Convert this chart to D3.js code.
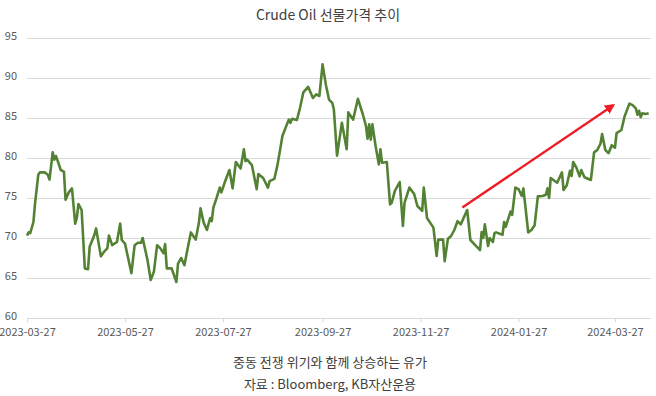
<!DOCTYPE html>
<html>
<head>
<meta charset="utf-8">
<script src="https://cdn.jsdelivr.net/npm/d3@7"></script>
<style>
  html, body { margin: 0; padding: 0; background: #fff; }
  #chart { width: 656px; height: 396px; }
  text { font-family: "Noto Sans CJK KR", "Noto Sans", sans-serif; }
</style>
</head>
<body>
<div id="chart"></div>
<script>
"use strict";

// Crude oil futures
const dates = [
  "2023-03-27","2023-03-28","2023-03-29","2023-03-31","2023-04-01","2023-04-03","2023-04-04","2023-04-07",
  "2023-04-09","2023-04-10","2023-04-12","2023-04-13","2023-04-14","2023-04-15","2023-04-17","2023-04-19",
  "2023-04-20","2023-04-22","2023-04-24","2023-04-26","2023-04-27","2023-04-28","2023-04-30","2023-05-02",
  "2023-05-04","2023-05-05","2023-05-08","2023-05-09","2023-05-12","2023-05-14","2023-05-16","2023-05-17",
  "2023-05-19","2023-05-22","2023-05-24","2023-05-25","2023-05-27","2023-05-31","2023-06-02","2023-06-04",
  "2023-06-06","2023-06-07","2023-06-10","2023-06-12","2023-06-14","2023-06-16","2023-06-18","2023-06-20",
  "2023-06-21","2023-06-22","2023-06-25","2023-06-28","2023-06-29","2023-07-01","2023-07-03","2023-07-05",
  "2023-07-07","2023-07-10","2023-07-12","2023-07-13","2023-07-15","2023-07-17","2023-07-19","2023-07-20",
  "2023-07-21","2023-07-23","2023-07-25","2023-07-26","2023-07-28","2023-07-31","2023-08-02","2023-08-04",
  "2023-08-07","2023-08-09","2023-08-10","2023-08-11","2023-08-14","2023-08-17","2023-08-18","2023-08-21",
  "2023-08-24","2023-08-25","2023-08-28","2023-08-30","2023-09-02","2023-09-04","2023-09-06","2023-09-07",
  "2023-09-08","2023-09-11","2023-09-13","2023-09-15","2023-09-18","2023-09-21","2023-09-23","2023-09-25",
  "2023-09-27","2023-09-29","2023-10-01","2023-10-03","2023-10-04","2023-10-06","2023-10-09","2023-10-12",
  "2023-10-13","2023-10-16","2023-10-19","2023-10-22","2023-10-24","2023-10-25","2023-10-26","2023-10-27",
  "2023-10-28","2023-10-30","2023-11-01","2023-11-02","2023-11-03","2023-11-06","2023-11-08","2023-11-09",
  "2023-11-11","2023-11-14","2023-11-16","2023-11-17","2023-11-20","2023-11-23","2023-11-25","2023-11-28",
  "2023-11-29","2023-12-01","2023-12-05","2023-12-07","2023-12-08","2023-12-11","2023-12-12","2023-12-14",
  "2023-12-16","2023-12-18","2023-12-20","2023-12-22","2023-12-26","2023-12-28","2023-12-31","2024-01-03",
  "2024-01-04","2024-01-05","2024-01-06","2024-01-08","2024-01-09","2024-01-11","2024-01-12","2024-01-13",
  "2024-01-17","2024-01-18","2024-01-19","2024-01-22","2024-01-23","2024-01-25","2024-01-27","2024-01-29",
  "2024-01-30","2024-02-02","2024-02-04","2024-02-06","2024-02-08","2024-02-11","2024-02-13","2024-02-14",
  "2024-02-15","2024-02-16","2024-02-20","2024-02-23","2024-02-24","2024-02-26","2024-02-28","2024-02-29",
  "2024-03-01","2024-03-03","2024-03-05","2024-03-06","2024-03-08","2024-03-12","2024-03-14","2024-03-16",
  "2024-03-18","2024-03-19","2024-03-21","2024-03-23","2024-03-25","2024-03-27","2024-03-28","2024-03-31",
  "2024-04-02","2024-04-05","2024-04-07","2024-04-09","2024-04-10","2024-04-11","2024-04-12","2024-04-13",
  "2024-04-15","2024-04-17"
];
const prices = [
  70.3, 70.7, 70.6, 72.0, 74.3, 77.9, 78.2, 78.2,
  77.9, 77.3, 80.7, 79.8, 80.25, 79.7, 78.5, 78.3,
  74.8, 75.7, 76.2, 71.8, 72.5, 74.25, 73.5, 66.2,
  66.1, 68.9, 70.4, 71.2, 67.7, 68.3, 68.7, 70.3,
  69.1, 69.5, 71.8, 69.75, 69.3, 65.6, 69.1, 69.4,
  69.4, 70.0, 67.25, 64.75, 65.8, 69.1, 68.7, 68.1,
  69.25, 66.2, 66.2, 64.5, 66.8, 67.5, 66.6, 68.7,
  70.7, 69.8, 71.9, 73.7, 71.9, 71.0, 72.5, 72.1,
  73.8, 75.0, 76.3, 75.7, 76.9, 78.5, 76.2, 79.5,
  78.7, 81.1, 79.6, 79.8, 79.1, 76.1, 78.0, 77.5,
  76.3, 77.1, 77.4, 79.2, 82.75, 83.8, 84.8, 84.4,
  84.9, 84.75, 86.3, 88.2, 88.9, 87.5, 87.95, 87.75,
  91.7, 89.2, 87.3, 86.9, 86.1, 80.3, 84.4, 81.1,
  85.7, 84.8, 87.4, 85.5, 84.0, 82.4, 84.2, 82.3,
  84.2, 81.5, 79.2, 81.1, 79.4, 79.5, 74.2, 74.4,
  75.9, 77.0, 71.5, 74.4, 76.3, 75.5, 74.0, 73.4,
  76.3, 72.5, 71.3, 67.75, 69.8, 69.8, 67.1, 69.9,
  70.25, 71.0, 72.1, 71.7, 73.5, 69.75, 69.1, 68.5,
  70.75, 70.0, 71.7, 69.0, 70.0, 69.5, 70.6, 70.7,
  70.4, 72.0, 71.4, 73.3, 72.9, 76.3, 76.1, 75.25,
  76.2, 70.7, 71.0, 71.6, 75.2, 75.25, 75.4, 76.2,
  75.0, 77.5, 76.9, 78.2, 76.0, 76.6, 78.4, 77.75,
  79.5, 78.8, 77.7, 78.5, 77.6, 77.25, 80.7, 81.0,
  81.8, 83.0, 81.0, 80.6, 81.6, 81.3, 83.1, 83.5,
  85.2, 86.8, 86.6, 86.2, 85.4, 85.9, 85.1, 85.6,
  85.5, 85.6
];

const x_domain = ["2023-03-27", "2024-04-17"];
const x_tick_labels = ["2023-03-27","2023-05-27","2023-07-27","2023-09-27","2023-11-27","2024-01-27","2024-03-27"];
const y_ticks = [60, 65, 70, 75, 80, 85, 90, 95];

// red trend arrow (date, value) start and end
const arrow_dates = ["2023-12-23", "2024-03-26"];
const arrow_values = [73.8, 86.6];

const title_text = "Crude Oil 선물가격 추이";
const caption_lines = ["중동 전쟁 위기와 함께 상승하는 유가", "자료 : Bloomberg, KB자산운용"];

const width = 656, height = 396;
const margins = {top: 38, right: 7.3, bottom: 78, left: 27};
const plot_width = width - margins.left - margins.right;
const plot_height = height - margins.top - margins.bottom;

const parse = d3.timeParse("%Y-%m-%d");

const x_scale = d3.scaleTime()
    .domain(x_domain.map(parse))
    .range([0, plot_width]);
const y_scale = d3.scaleLinear()
    .domain([60, 95])
    .range([plot_height, 0]);

const svg = d3.select("#chart").append("svg")
    .attr("width", width)
    .attr("height", height);

svg.append("rect").attr("width", width).attr("height", height).attr("fill", "white");

const g = svg.append("g")
    .attr("transform", "translate(" + margins.left + "," + margins.top + ")");

// Horizontal grid + y labels
const y_axis = d3.axisLeft(y_scale)
    .tickValues(y_ticks)
    .tickSize(-(plot_width + 2))
    .tickPadding(10);
const y_g = g.append("g").attr("class", "y_axis").call(y_axis);
y_g.select(".domain").remove();
y_g.selectAll(".tick line").attr("stroke", "#d9d9d9").attr("stroke-width", 1);
y_g.selectAll(".tick text")
    .attr("fill", "#595959")
    .attr("dy", "0.1em")
    .style("font-size", "11px");

// X axis
const x_axis = d3.axisBottom(x_scale)
    .tickValues(x_tick_labels.map(parse))
    .tickFormat(d3.timeFormat("%Y-%m-%d"))
    .tickSize(4)
    .tickPadding(6);
const x_g = g.append("g")
    .attr("class", "x_axis")
    .attr("transform", "translate(0," + plot_height + ")")
    .call(x_axis);
x_g.select(".domain").attr("stroke", "#d9d9d9").attr("d", "M0,0.5H" + (plot_width + 2));
x_g.selectAll(".tick line").attr("stroke", "#d9d9d9");
x_g.selectAll(".tick text")
    .attr("fill", "#595959")
    .style("font-size", "11px");

// Price line
const series = dates.map((d, i) => ({date: parse(d), value: prices[i]}));
const line = d3.line()
    .x(d => x_scale(d.date))
    .y(d => y_scale(d.value));

g.append("path")
    .datum(series)
    .attr("fill", "none")
    .attr("stroke", "#548235")
    .attr("stroke-width", 2.6)
    .attr("stroke-linejoin", "round")
    .attr("d", line);

// Arrow
svg.append("defs").append("marker")
    .attr("id", "arrowhead")
    .attr("viewBox", "0 0 10 10")
    .attr("refX", 8)
    .attr("refY", 5)
    .attr("markerWidth", 4.2)
    .attr("markerHeight", 4.2)
    .attr("orient", "auto")
    .append("path")
    .attr("d", "M0,0L10,5L0,10z")
    .attr("fill", "#ee1c24");

g.append("line")
    .attr("x1", x_scale(parse(arrow_dates[0])))
    .attr("y1", y_scale(arrow_values[0]))
    .attr("x2", x_scale(parse(arrow_dates[1])))
    .attr("y2", y_scale(arrow_values[1]))
    .attr("stroke", "#ee1c24")
    .attr("stroke-width", 2.4)
    .attr("marker-end", "url(#arrowhead)");

// Title and captions
svg.append("text")
    .attr("x", width / 2)
    .attr("y", 20)
    .attr("text-anchor", "middle")
    .attr("fill", "#404040")
    .style("font-size", "14px")
    .text(title_text);

svg.selectAll(".caption")
    .data(caption_lines)
    .enter()
    .append("text")
    .attr("class", "caption")
    .attr("x", width / 2 + 2)
    .attr("y", (d, i) => 367 + i * 22)
    .attr("text-anchor", "middle")
    .attr("fill", "#404040")
    .style("font-size", "13px")
    .text(d => d);
</script>
</body>
</html>
